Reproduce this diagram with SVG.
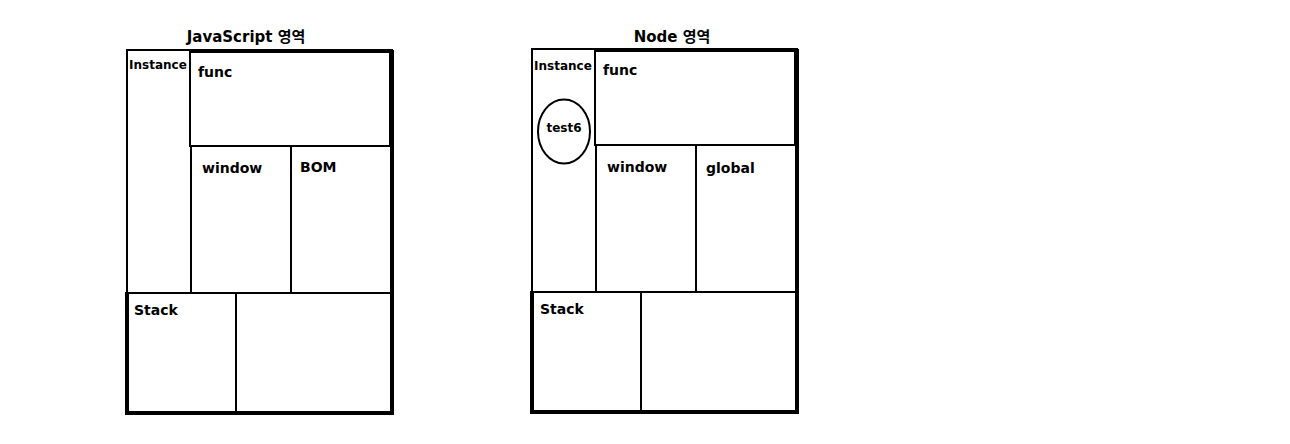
<svg xmlns="http://www.w3.org/2000/svg" width="1290" height="444" viewBox="0 0 1290 444">
<style>
.box{fill:none;stroke:#000;stroke-width:2}
.thick{fill:none;stroke:#000;stroke-width:4}
.t{font-family:"DejaVu Sans","Noto Sans CJK KR",sans-serif;font-weight:bold;fill:#000}
.title{font-size:15px}
.lbl{font-size:14px}
.small{font-size:12px}
</style>
<rect width="1290" height="444" fill="#fff"/>
<g id="js">
  <text class="t title" x="246" y="42" text-anchor="middle">JavaScript 영역</text>
  <rect class="box" x="127" y="50" width="265" height="363"/>
  <line class="thick" x1="392" y1="50" x2="392" y2="415"/>
  <line class="thick" x1="125" y1="413" x2="394" y2="413"/>
  <line class="thick" x1="127" y1="293" x2="127" y2="413"/>
  <g id="js-instance"><text class="t small" x="129" y="69">Instance</text></g>
  <g id="js-func"><rect class="box" x="190" y="52" width="200" height="94"/><text class="t lbl" x="198" y="77">func</text></g>
  <g id="js-window"><rect class="box" x="191" y="146" width="100" height="147"/><text class="t lbl" x="202" y="173">window</text></g>
  <g id="js-bom"><rect class="box" x="291" y="146" width="100" height="147"/><text class="t lbl" x="300" y="172">BOM</text></g>
  <g id="js-stack"><rect class="box" x="126" y="293" width="110" height="120"/><text class="t lbl" x="134" y="315">Stack</text></g>
  <g id="js-heap"><rect class="box" x="236" y="293" width="156" height="120"/></g>
</g>
<g id="node">
  <text class="t title" x="672" y="42" text-anchor="middle">Node 영역</text>
  <rect class="box" x="532" y="49" width="265" height="363"/>
  <line class="thick" x1="797" y1="49" x2="797" y2="414"/>
  <line class="thick" x1="530" y1="412" x2="799" y2="412"/>
  <line class="thick" x1="532" y1="292" x2="532" y2="412"/>
  <g id="node-instance"><text class="t small" x="534" y="70">Instance</text></g>
  <g id="node-test6"><ellipse cx="564" cy="131.5" rx="26" ry="32" fill="none" stroke="#000" stroke-width="2"/><text class="t small" x="564" y="132" text-anchor="middle">test6</text></g>
  <g id="node-func"><rect class="box" x="595" y="51" width="200" height="94"/><text class="t lbl" x="603" y="75">func</text></g>
  <g id="node-window"><rect class="box" x="596" y="145" width="100" height="147"/><text class="t lbl" x="607" y="172">window</text></g>
  <g id="node-global"><rect class="box" x="696" y="145" width="100" height="147"/><text class="t lbl" x="706" y="173">global</text></g>
  <g id="node-stack"><rect class="box" x="531" y="292" width="110" height="120"/><text class="t lbl" x="540" y="314">Stack</text></g>
  <g id="node-heap"><rect class="box" x="641" y="292" width="156" height="120"/></g>
</g>
<g id="connectors"></g>
</svg>
